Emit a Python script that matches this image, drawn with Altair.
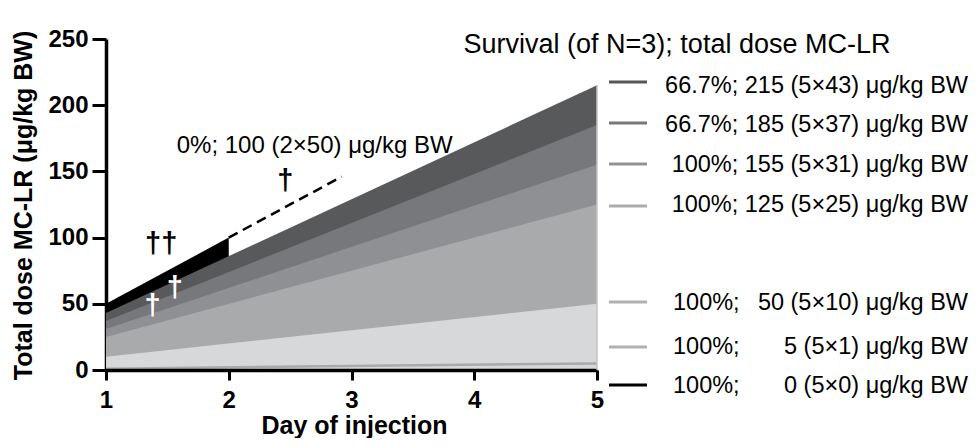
import altair as alt
import pandas as pd

# ---------------- data ----------------
series_names = ["43", "37", "31", "25", "10", "1", "0"]
total_day1 = [43, 37, 31, 25, 10, 1, 0]          # total dose after day 1
total_day5 = [215, 185, 155, 125, 50, 5, 0]      # total dose after day 5
area_days = [1, 5]
fill_colors = ["#58595b", "#77787b", "#8f9093", "#a9aaac", "#d7d8da", "#a9aaac", "#000000"]

survival = ["66.7%;", "66.7%;", "100%;", "100%;", "100%;", "100%;", "100%;"]
dose_labels = ["215 (5×43) μg/kg BW", "185 (5×37) μg/kg BW", "155 (5×31) μg/kg BW",
               "125 (5×25) μg/kg BW", "50 (5×10) μg/kg BW", "5 (5×1) μg/kg BW",
               "0 (5×0) μg/kg BW"]
legend_colors = ["#555658", "#77787b", "#929396", "#aaabad", "#b0b1b3", "#b0b1b3", "#000000"]
legend_title = "Survival (of N=3); total dose MC-LR"

lethal_days = [1, 2]
lethal_total = [50, 100]
dashed_days = [2, 2.92]
dashed_total = [100, 146]

annot_text = ["0%; 100 (2×50) μg/kg BW"]
annot_day = [2.70]
annot_value = [164]

dagger_text = ["†", "††", "†", "†"]
dagger_day = [2.46, 1.45, 1.38, 1.56]
dagger_value = [142.7, 95.2, 48.3, 61.9]
dagger_color = ["black", "black", "white", "white"]

# ---------------- layout (pixels) ----------------
W, H = 491, 331
legend_line_y = [43, 84, 125, 167, 263, 308, 346]
legend_text_y = [54, 93, 133, 173, 271, 315, 354]
FONT = "Liberation Sans"

xscale = alt.Scale(domain=[1, 5], nice=False, zero=False)
yscale = alt.Scale(domain=[0, 250], nice=False)

xaxis = alt.Axis(values=[1, 2, 3, 4, 5], format="d", title="Day of injection",
                 labelFont=FONT, labelFontSize=24, labelFontWeight="bold", labelColor="black",
                 labelPadding=8, labelFlush=False, tickSize=10, tickWidth=3, tickColor="black",
                 domainWidth=3.5, domainColor="black", grid=False,
                 titleFont=FONT, titleFontSize=25, titleFontWeight="bold", titleColor="black",
                 titleX=248, titleY=63, titleBaseline="alphabetic", titleAlign="center")
yaxis = alt.Axis(values=[0, 50, 100, 150, 200, 250], title="Total dose MC-LR (μg/kg BW)",
                 labelFont=FONT, labelFontSize=24, labelFontWeight="bold", labelColor="black",
                 labelPadding=4, labelFlush=False, tickSize=14, tickWidth=3, tickColor="black",
                 domainWidth=3.5, domainColor="black", grid=False,
                 titleFont=FONT, titleFontSize=25, titleFontWeight="bold", titleColor="black",
                 titleX=-75, titleY=166, titleAngle=270, titleBaseline="alphabetic",
                 titleAlign="center")

layers = []

# lethal 50 ug/kg group (black, day 1-2)
df_leth = pd.DataFrame({"day": lethal_days, "value": lethal_total})
layers.append(alt.Chart(df_leth).mark_area(color="black", opacity=1).encode(
    x=alt.X("day:Q", scale=xscale, axis=xaxis),
    y=alt.Y("value:Q", scale=yscale, axis=yaxis)))

# grey filled series, largest first
for i, name in enumerate(series_names):
    df = pd.DataFrame({"day": area_days, "value": [total_day1[i], total_day5[i]]})
    if name in ("1", "0"):
        layers.append(alt.Chart(df).mark_line(color=fill_colors[i], strokeWidth=2.5).encode(
            x=alt.X("day:Q", scale=xscale), y=alt.Y("value:Q", scale=yscale)))
    else:
        layers.append(alt.Chart(df).mark_area(color=fill_colors[i], opacity=1).encode(
            x=alt.X("day:Q", scale=xscale), y=alt.Y("value:Q", scale=yscale)))

# light edge at the right end of the filled series
df_edge = pd.DataFrame({"day": [5], "lo": [0], "hi": [max(total_day5)]})
layers.append(alt.Chart(df_edge).mark_rule(color="#c4c5c7", strokeWidth=1.5).encode(
    x=alt.X("day:Q", scale=xscale), y=alt.Y("lo:Q", scale=yscale), y2="hi:Q"))

# dashed continuation
df_dash = pd.DataFrame({"day": dashed_days, "value": dashed_total})
layers.append(alt.Chart(df_dash).mark_line(color="black", strokeWidth=2.5,
                                           strokeDash=[10, 6]).encode(
    x=alt.X("day:Q", scale=xscale), y=alt.Y("value:Q", scale=yscale)))

# annotations
df_ann = pd.DataFrame({"t": annot_text, "day": annot_day, "value": annot_value})
layers.append(alt.Chart(df_ann).mark_text(font=FONT, fontSize=24, color="black",
                                          align="center", baseline="alphabetic").encode(
    x=alt.X("day:Q", scale=xscale), y=alt.Y("value:Q", scale=yscale), text="t:N"))

df_dag = pd.DataFrame({"t": dagger_text, "day": dagger_day, "value": dagger_value,
                       "c": dagger_color})
layers.append(alt.Chart(df_dag).mark_text(font=FONT, fontSize=29, fontWeight="bold",
                                          align="center", baseline="middle").encode(
    x=alt.X("day:Q", scale=xscale), y=alt.Y("value:Q", scale=yscale), text="t:N",
    color=alt.Color("c:N", scale=None)))

# custom legend
df_leg = pd.DataFrame({"pct": survival, "dose": dose_labels, "col": legend_colors,
                       "ly": legend_line_y, "ty": legend_text_y})
df_leg["full"] = df_leg["pct"] + " " + df_leg["dose"]
df_leg["row"] = range(len(df_leg))

layers.append(alt.Chart(df_leg).mark_rule(strokeWidth=3).encode(
    x=alt.value(503), x2=alt.value(541), y=alt.Y("ly:Q", scale=None),
    color=alt.Color("col:N", scale=None)))

top_rows = df_leg[df_leg["row"] < 4]
low_rows = df_leg[df_leg["row"] >= 4]
layers.append(alt.Chart(top_rows).mark_text(font=FONT, fontSize=23.5, color="black",
                                            align="right", baseline="alphabetic").encode(
    x=alt.value(862), y=alt.Y("ty:Q", scale=None), text="full:N"))
layers.append(alt.Chart(low_rows).mark_text(font=FONT, fontSize=23.5, color="black",
                                            align="left", baseline="alphabetic").encode(
    x=alt.value(567), y=alt.Y("ty:Q", scale=None), text="pct:N"))
layers.append(alt.Chart(low_rows).mark_text(font=FONT, fontSize=23.5, color="black",
                                            align="right", baseline="alphabetic").encode(
    x=alt.value(862), y=alt.Y("ty:Q", scale=None), text="dose:N"))

df_title = pd.DataFrame({"t": [legend_title]})
layers.append(alt.Chart(df_title).mark_text(font=FONT, fontSize=27, color="black",
                                            align="center", baseline="alphabetic").encode(
    x=alt.value(571), y=alt.value(14), text="t:N"))

chart = alt.layer(*layers).properties(
    width=W, height=H,
    padding={"left": 98, "top": 31, "right": 372, "bottom": 68},
    autosize=alt.AutoSizeParams(type="none"),
).configure_view(stroke=None)

chart.save("out.html", embed_options={"renderer": "svg", "actions": False})
